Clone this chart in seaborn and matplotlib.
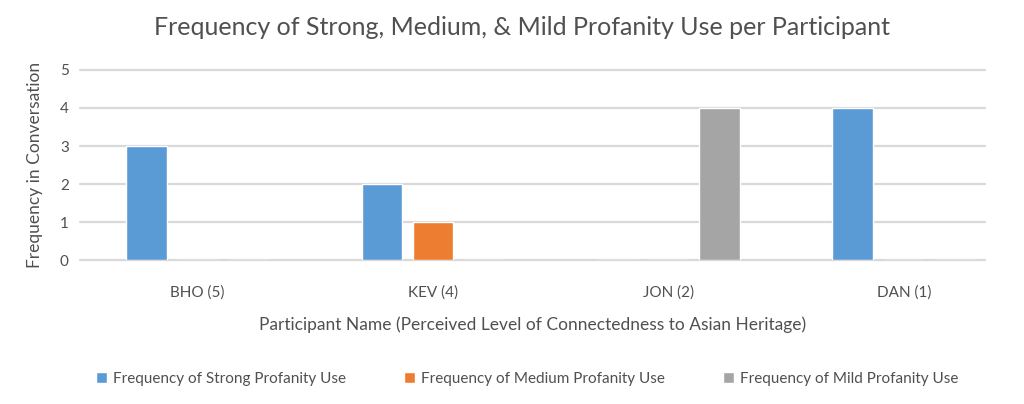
import pandas as pd
import matplotlib.pyplot as plt
import seaborn as sns

# values
participants = ['BHO (5)', 'KEV (4)', 'JON (2)', 'DAN (1)']
strong = [3, 2, 0, 4]
medium = [0, 1, 0, 0]
mild = [0, 0, 4, 0]
series_names = ['Frequency of Strong Profanity Use',
                'Frequency of Medium Profanity Use',
                'Frequency of Mild Profanity Use']
colors = ['#5B9BD5', '#ED7D31', '#A5A5A5']

rows = []
for name, vals in zip(series_names, [strong, medium, mild]):
    for p, v in zip(participants, vals):
        rows.append({'participant': p, 'series': name, 'count': v})
df = pd.DataFrame(rows)

sns.set_style('white')
plt.rcParams['font.family'] = ['Lato', 'DejaVu Sans']
text_gray = '#505050'

fig = plt.figure(figsize=(10.24, 4.04), dpi=100)
ax = fig.add_axes([0.078, 0.356, 0.884, 0.471])

sns.barplot(data=df, x='participant', y='count', hue='series',
            palette=colors, saturation=1, width=0.65, gap=0.2, ax=ax, zorder=3,
            order=participants, hue_order=series_names)

ax.set_ylim(0, 5)
ax.set_xlim(-0.5, 3.345)
ax.set_yticks(range(0, 6))
ax.yaxis.grid(True, color='#D9D9D9', linewidth=1.6, zorder=0)
for gl in ax.get_ygridlines():
    gl.set_clip_on(False)
for s in ax.spines.values():
    s.set_visible(False)
ax.tick_params(axis='both', length=0, colors=text_gray, labelsize=11)
ax.tick_params(axis='x', pad=18)
ax.tick_params(axis='y', pad=8)

ax.set_xlabel('Participant Name (Perceived Level of Connectedness to Asian Heritage)',
              fontsize=12.5, color=text_gray, labelpad=12)
ax.set_ylabel('Frequency in Conversation', fontsize=12.5, color=text_gray, labelpad=12)

fig.suptitle('Frequency of Strong, Medium, & Mild Profanity Use per Participant',
             fontsize=18, color=text_gray, x=0.51, y=0.96)

ax.legend(loc='center', bbox_to_anchor=(0.515, 0.062), bbox_transform=fig.transFigure,
          ncol=3, frameon=False, fontsize=11, handlelength=0.7, handleheight=0.7,
          columnspacing=3.8, handletextpad=0.4, labelcolor=text_gray)

fig.savefig('out.png', dpi=100)
